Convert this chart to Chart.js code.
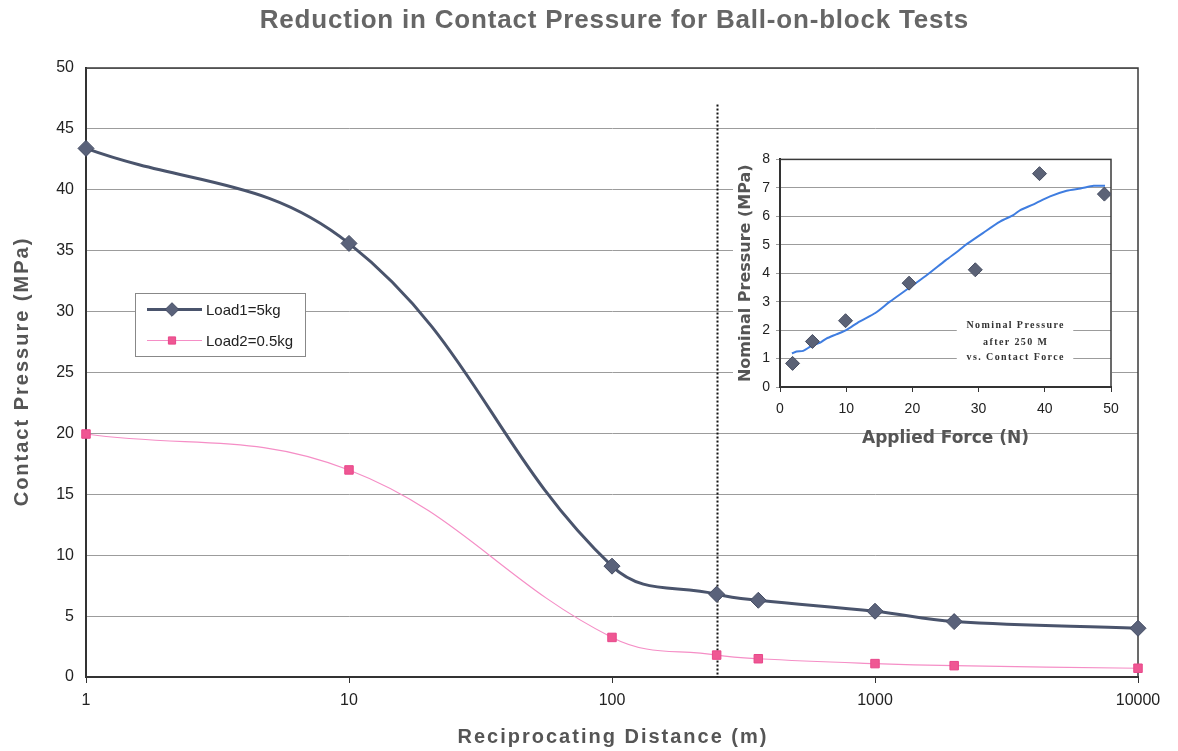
<!DOCTYPE html>
<html>
<head>
<meta charset="utf-8">
<title>Reduction in Contact Pressure for Ball-on-block Tests</title>
<script src="https://cdn.jsdelivr.net/npm/chart.js@4.4.1/dist/chart.umd.min.js"></script>
<style>
  html, body { margin: 0; padding: 0; background: #fff; }
  #wrap { position: relative; width: 1178px; height: 751px; overflow: hidden; }
  #mainChart { position: absolute; left: 0; top: 0; width: 1178px; height: 751px; }
  #insetChart { position: absolute; left: 728px; top: 145px; width: 400px; height: 305px; }
</style>
</head>
<body>
<div id="wrap">
  <canvas id="mainChart" width="1178" height="751"></canvas>
  <canvas id="insetChart" width="400" height="305"></canvas>
</div>
<script>
// Contact pressure vs reciprocating distance (m)
const distances = [1, 10, 100, 250, 360, 1000, 2000, 10000];
const load1Pressure = [43.4, 35.6, 9.1, 6.8, 6.3, 5.4, 4.55, 4.0];
const load2Pressure = [19.95, 17.0, 3.25, 1.8, 1.5, 1.1, 0.93, 0.72];
const distanceTicks = [1, 10, 100, 1000, 10000];
const seriesLabels = ['Load1=5kg', 'Load2=0.5kg'];

// dotted marker at 250 m (the inset's reference distance)
const markerDistance = 250;
const markerTop = 47;

// Inset: nominal pressure after 250 m vs applied force
const appliedForce = [1.9, 4.9, 9.9, 19.5, 29.5, 39.2, 49.0];
const nominalPressure = [0.83, 1.6, 2.33, 3.65, 4.12, 7.5, 6.78];
const fitForce = [1.8, 2.5, 3.5, 4.8, 6, 7, 8.5, 10, 12, 14.4, 16.6, 19, 22, 25, 27, 28.2, 30.7, 33.3, 35.3, 36.3, 38.3, 40.8, 43.3, 45.4, 47.4, 49.1];
const fitPressure = [1.18, 1.25, 1.27, 1.45, 1.55, 1.7, 1.85, 2.0, 2.3, 2.6, 3.0, 3.4, 3.9, 4.45, 4.8, 5.02, 5.42, 5.82, 6.05, 6.22, 6.42, 6.7, 6.9, 6.98, 7.07, 7.07];
const insetNote = ['Nominal Pressure', 'after 250 M', 'vs. Contact Force'];

const SANS = '"Liberation Sans", Arial, sans-serif';

function toPoints(xs, ys) {
  return xs.map((x, i) => ({ x: x, y: ys[i] }));
}

function spacedText(ctx, text, x, y, spacing) {
  ctx.letterSpacing = spacing + 'px';
  // letterSpacing adds a trailing gap, shift back by half of it
  ctx.fillText(text, x + spacing / 2, y);
  ctx.letterSpacing = '0px';
}

const mainDecor = {
  id: 'mainDecor',
  beforeDatasetsDraw(chart) {
    const { ctx, chartArea: a, scales: { x, y } } = chart;
    ctx.save();
    // plot frame
    ctx.strokeStyle = '#3a3a3a';
    ctx.lineWidth = 1.5;
    ctx.strokeRect(a.left, a.top, a.right - a.left, a.bottom - a.top);
    // dotted line at 250 m
    const px = Math.round(x.getPixelForValue(markerDistance)) + 0.5;
    ctx.strokeStyle = '#111';
    ctx.lineWidth = 2;
    ctx.setLineDash([2, 2]);
    ctx.beginPath();
    ctx.moveTo(px, y.getPixelForValue(markerTop));
    ctx.lineTo(px, y.getPixelForValue(0));
    ctx.stroke();
    ctx.restore();
  },
  afterDraw(chart) {
    const { ctx, chartArea: a } = chart;
    ctx.save();
    // chart title
    ctx.fillStyle = '#666';
    ctx.font = 'bold 26px ' + SANS;
    ctx.textAlign = 'center';
    ctx.textBaseline = 'middle';
    spacedText(ctx, 'Reduction in Contact Pressure for Ball-on-block Tests', 614, 21, 0.8);

    // axis titles
    ctx.fillStyle = '#555';
    ctx.font = 'bold 20px ' + SANS;
    spacedText(ctx, 'Reciprocating Distance (m)', (a.left + a.right) / 2, a.bottom + 60, 2);
    ctx.save();
    ctx.translate(22, (a.top + a.bottom) / 2);
    ctx.rotate(-Math.PI / 2);
    spacedText(ctx, 'Contact Pressure (MPa)', 0, 0, 2);
    ctx.restore();

    // legend box
    const bx = 135.5, by = 293.5, bw = 170, bh = 63;
    ctx.fillStyle = '#fff';
    ctx.fillRect(bx, by, bw, bh);
    ctx.strokeStyle = '#888';
    ctx.lineWidth = 1;
    ctx.strokeRect(bx, by, bw, bh);
    chart.data.datasets.forEach((ds, i) => {
      const ly = by + 16 + i * 31;
      ctx.strokeStyle = ds.borderColor;
      ctx.lineWidth = ds.borderWidth;
      ctx.beginPath();
      ctx.moveTo(147, ly);
      ctx.lineTo(202, ly);
      ctx.stroke();
      ctx.fillStyle = ds.pointBackgroundColor;
      ctx.strokeStyle = ds.pointBorderColor;
      ctx.lineWidth = 1;
      Chart.helpers.drawPoint(ctx, {
        pointStyle: ds.pointStyle,
        radius: ds.pointRadius * 0.85,
        rotation: 0,
        borderWidth: 1
      }, 172, ly);
      ctx.fillStyle = '#222';
      ctx.font = '15px ' + SANS;
      ctx.textAlign = 'left';
      ctx.textBaseline = 'middle';
      ctx.fillText(ds.label, 206, ly + 1);
    });
    ctx.restore();
  }
};

new Chart(document.getElementById('mainChart'), {
  type: 'line',
  data: {
    datasets: [{
      label: seriesLabels[0],
      data: toPoints(distances, load1Pressure),
      borderColor: '#4a546c',
      borderWidth: 3,
      pointStyle: 'rectRot',
      pointRadius: 8,
      pointBackgroundColor: '#5a627a',
      pointBorderColor: '#434b62',
      pointBorderWidth: 1,
      tension: 0.4,
      clip: false
    }, {
      label: seriesLabels[1],
      data: toPoints(distances, load2Pressure),
      borderColor: '#f58ec6',
      borderWidth: 1.2,
      pointStyle: 'rect',
      pointRadius: 6,
      pointBackgroundColor: '#ef5793',
      pointBorderColor: '#e8478a',
      pointBorderWidth: 1,
      tension: 0.4,
      clip: false
    }]
  },
  options: {
    responsive: false,
    animation: false,
    layout: { padding: { top: 68, right: 40, left: 0, bottom: 0 } },
    plugins: {
      legend: { display: false },
      tooltip: { enabled: false }
    },
    scales: {
      x: {
        type: 'logarithmic',
        min: 1,
        max: 10000,
        afterBuildTicks: function(scale) {
          scale.ticks = distanceTicks.map(v => ({ value: v }));
        },
        afterFit: function(scale) { scale.height = 74; },
        border: { display: true, color: '#222', width: 2 },
        grid: { drawOnChartArea: false, drawTicks: true, tickLength: 6, color: '#333' },
        ticks: {
          autoSkip: false,
          maxRotation: 0,
          padding: 8,
          color: '#222',
          font: { family: SANS, size: 16 },
          callback: function(value) { return String(value); }
        }
      },
      y: {
        min: 0,
        max: 50,
        afterFit: function(scale) { scale.width = 86; },
        border: { display: true, color: '#222', width: 2 },
        grid: { color: '#9c9c9c', lineWidth: 1, drawTicks: false },
        ticks: {
          stepSize: 5,
          padding: 12,
          color: '#222',
          font: { family: SANS, size: 16 }
        }
      }
    }
  },
  plugins: [mainDecor]
});

const insetDecor = {
  id: 'insetDecor',
  beforeDraw(chart) {
    const { ctx, chartArea: a } = chart;
    ctx.save();
    ctx.fillStyle = '#fff';
    ctx.fillRect(a.left - 47, 0, a.right - a.left + 48, a.bottom + 33);
    ctx.restore();
  },
  beforeDatasetsDraw(chart) {
    const { ctx, chartArea: a, scales: { x, y } } = chart;
    ctx.save();
    ctx.strokeStyle = '#3a3a3a';
    ctx.lineWidth = 1.5;
    ctx.strokeRect(a.left, a.top, a.right - a.left, a.bottom - a.top);

    // note box over the grid
    const left = x.getPixelForValue(26.7), right = x.getPixelForValue(44.3);
    const top = y.getPixelForValue(2.45), bottom = y.getPixelForValue(0.75);
    ctx.fillStyle = '#fff';
    ctx.fillRect(left, top, right - left, bottom - top);
    ctx.fillStyle = '#333';
    ctx.font = 'bold 10px "Liberation Serif", "Times New Roman", serif';
    ctx.textAlign = 'center';
    ctx.textBaseline = 'middle';
    const cx = (left + right) / 2;
    [2.16, 1.58, 1.05].forEach((v, i) => {
      spacedText(ctx, insetNote[i], cx, y.getPixelForValue(v), 1.4);
    });
    ctx.restore();
  }
};

new Chart(document.getElementById('insetChart'), {
  type: 'scatter',
  data: {
    datasets: [{
      label: 'Nominal Pressure',
      data: toPoints(appliedForce, nominalPressure),
      pointStyle: 'rectRot',
      pointRadius: 7,
      pointBackgroundColor: '#5b6276',
      pointBorderColor: '#474e62',
      pointBorderWidth: 1,
      order: 1
    }, {
      label: 'Trend',
      type: 'line',
      data: toPoints(fitForce, fitPressure),
      borderColor: '#3f7de0',
      borderWidth: 2,
      pointRadius: 0,
      tension: 0.25,
      order: 2
    }]
  },
  options: {
    responsive: false,
    animation: false,
    layout: { padding: { top: 12, right: 17, left: 0, bottom: 0 } },
    plugins: {
      legend: { display: false },
      tooltip: { enabled: false }
    },
    scales: {
      x: {
        type: 'linear',
        min: 0,
        max: 50,
        afterFit: function(scale) { scale.height = 63; },
        border: { display: true, color: '#222', width: 2 },
        grid: { drawOnChartArea: false, drawTicks: true, tickLength: 5, color: '#333' },
        ticks: {
          stepSize: 10,
          padding: 9,
          color: '#222',
          font: { family: SANS, size: 14 }
        },
        title: {
          display: true,
          text: 'Applied Force (N)',
          color: '#555',
          font: { family: '"DejaVu Sans", sans-serif', size: 17, weight: 'bold' },
          padding: { top: 0, bottom: 1 }
        }
      },
      y: {
        min: 0,
        max: 8,
        afterFit: function(scale) { scale.width = 52; },
        border: { display: true, color: '#222', width: 2 },
        grid: { color: '#9c9c9c', lineWidth: 1, drawTicks: true, tickLength: 4 },
        ticks: {
          stepSize: 1,
          padding: 6,
          color: '#222',
          font: { family: SANS, size: 14 }
        },
        title: {
          display: true,
          text: 'Nominal Pressure (MPa)',
          color: '#555',
          font: { family: '"DejaVu Sans", sans-serif', size: 16, weight: 'bold' },
          padding: { top: 8, bottom: 0 }
        }
      }
    }
  },
  plugins: [insetDecor]
});
</script>
</body>
</html>
